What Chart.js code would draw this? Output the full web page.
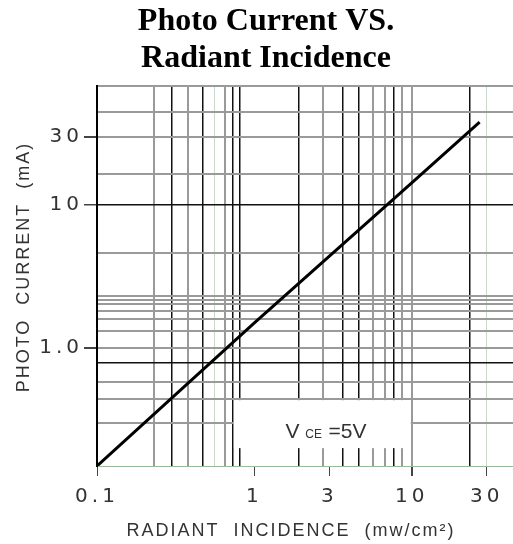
<!DOCTYPE html>
<html>
<head>
<meta charset="utf-8">
<script src="https://cdn.jsdelivr.net/npm/chart.js@4.4.1/dist/chart.umd.min.js"></script>
<style>
  html, body { margin: 0; padding: 0; background: #fff; }
</style>
</head>
<body>
<canvas id="chart-photo" width="513" height="544"></canvas>
<script>
// curve (mW/cm2 -> mA)
const radiant = [0.1, 1, 10, 27];
const photoCurrent = [0.15, 1.5, 14.3, 38];

const xTickValues = [0.1, 1, 3, 10, 30];
const xTickText = ['0.1', '1', '3', '10', '30'];
const yTickValues = [1, 10, 30];
const yTickText = ['1.0', '10', '30'];

// the printed grid is not a clean log grid, so lines are listed as read
const xGridDark = [0.30, 0.47, 0.73, 0.81, 1.92, 3.63, 4.61, 7.72, 23.3];
const xGridGray = [0.23, 0.38, 0.65, 2.73, 5.68, 6.77, 8.61, 10];
const xGridFaint = [0.56, 30];
const yGridDark = [10, 0.79];
const yGridGray = [68, 45, 30, 16.4, 4.6, 2.31, 2.17, 2.03, 1.82, 1.59, 1.31, 1, 0.58, 0.44, 0.30];

const noteBoxX = [0.73, 10];
const noteBoxY = [0.2, 0.44];
const notePos = [2.85, 0.267];

const xAll = [...new Set([...xTickValues, ...xGridDark, ...xGridGray, ...xGridFaint])].sort((a, b) => a - b);
const yAll = [...new Set([...yTickValues, ...yGridDark, ...yGridGray])].sort((a, b) => a - b);

function gridColor(v, dark, gray, faint) {
  if (dark.includes(v)) return '#111';
  if (gray.includes(v)) return '#9a9a9a';
  if (faint && faint.includes(v)) return '#c9d9c9';
  return 'rgba(0,0,0,0)';
}
function gridWidth(v, dark, gray) {
  if (dark.includes(v)) return 1.5;
  if (gray.includes(v)) return 2;
  return 1;
}

const sheetText = {
  id: 'sheetText',
  beforeDraw(chart) {
    chart.ctx.letterSpacing = '4px';
  },
  beforeDatasetsDraw(chart) {
    const {ctx, scales: {x, y}} = chart;
    const x0 = x.getPixelForValue(noteBoxX[0]) + 1;
    const x1 = x.getPixelForValue(noteBoxX[1]) - 1;
    const y0 = y.getPixelForValue(noteBoxY[1]) + 1;
    const y1 = y.getPixelForValue(noteBoxY[0]);
    ctx.save();
    ctx.fillStyle = '#fff';
    ctx.fillRect(x0, y0, x1 - x0, y1 - y0);
    ctx.restore();
  },
  afterDraw(chart) {
    const {ctx, scales: {x, y}} = chart;
    ctx.save();
    ctx.letterSpacing = '0px';
    ctx.fillStyle = '#000';
    ctx.textAlign = 'center';
    ctx.textBaseline = 'middle';
    ctx.font = 'bold 32px "Liberation Serif"';
    ctx.fillText('Photo Current VS.', 266, 22);
    ctx.fillText('Radiant Incidence', 266, 59);

    ctx.fillStyle = '#333';
    ctx.letterSpacing = '2px';
    ctx.font = '18px "Liberation Sans"';
    ctx.fillText('RADIANT  INCIDENCE  (mw/cm\u00b2)', 291, 531);
    ctx.save();
    ctx.translate(24, 267);
    ctx.rotate(-Math.PI / 2);
    ctx.fillText('PHOTO  CURRENT  (mA)', 0, 0);
    ctx.restore();

    // V_CE = 5V note
    const px = x.getPixelForValue(notePos[0]);
    const py = y.getPixelForValue(notePos[1]);
    ctx.letterSpacing = '0px';
    ctx.textAlign = 'left';
    ctx.textBaseline = 'alphabetic';
    const big = '21px "Liberation Sans"';
    const small = '12px "Liberation Sans"';
    ctx.font = big;
    const wV = ctx.measureText('V ').width;
    const wRest = ctx.measureText('=5V').width;
    ctx.font = small;
    const wCE = ctx.measureText('CE  ').width;
    let cx = px - (wV + wCE + wRest) / 2;
    const base = py + 8;
    ctx.font = big;
    ctx.fillText('V ', cx, base);
    cx += wV;
    ctx.font = small;
    ctx.fillText('CE  ', cx, base);
    cx += wCE;
    ctx.font = big;
    ctx.fillText('=5V', cx, base);
    ctx.restore();
  }
};

const chartPhoto = document.getElementById('chart-photo');

new Chart(chartPhoto, {
  type: 'line',
  data: {
    datasets: [{
      label: 'Photo Current',
      data: radiant.map((v, i) => ({x: v, y: photoCurrent[i]})),
      borderColor: '#000',
      borderWidth: 3,
      pointRadius: 0,
      tension: 0
    }]
  },
  options: {
    responsive: false,
    animation: false,
    devicePixelRatio: 1,
    layout: {padding: {top: 86, left: 0, right: 0, bottom: 0}},
    plugins: {
      legend: {display: false},
      tooltip: {enabled: false}
    },
    scales: {
      x: {
        type: 'logarithmic',
        position: 'bottom',
        min: 0.1,
        max: 44,
        bounds: 'data',
        afterBuildTicks: (scale) => { scale.ticks = xAll.map(v => ({value: v})); },
        afterFit: (scale) => { scale.height = 78; },
        ticks: {
          autoSkip: false,
          maxRotation: 0,
          padding: 9,
          color: '#333',
          font: {family: 'DejaVu Sans', size: 20},
          callback: (v) => {
            const i = xTickValues.indexOf(v);
            return i >= 0 ? xTickText[i] : '';
          }
        },
        grid: {
          tickLength: 10,
          color: (ctx) => gridColor(ctx.tick.value, xGridDark, xGridGray, xGridFaint),
          lineWidth: (ctx) => gridWidth(ctx.tick.value, xGridDark, xGridGray),
          tickColor: (ctx) => xTickValues.includes(ctx.tick.value) ? '#444' : 'rgba(0,0,0,0)'
        },
        border: {color: '#9b9', width: 1}
      },
      y: {
        type: 'logarithmic',
        position: 'left',
        min: 0.15,
        max: 68,
        bounds: 'data',
        afterBuildTicks: (scale) => { scale.ticks = yAll.map(v => ({value: v})); },
        afterFit: (scale) => { scale.width = 97; },
        ticks: {
          autoSkip: false,
          padding: 1,
          color: '#333',
          font: {family: 'DejaVu Sans', size: 20},
          callback: (v) => {
            const i = yTickValues.indexOf(v);
            return i >= 0 ? yTickText[i] : '';
          }
        },
        grid: {
          tickLength: 13,
          color: (ctx) => gridColor(ctx.tick.value, yGridDark, yGridGray),
          lineWidth: (ctx) => gridWidth(ctx.tick.value, yGridDark, yGridGray),
          tickColor: (ctx) => yTickValues.includes(ctx.tick.value) ? '#444' : 'rgba(0,0,0,0)'
        },
        border: {color: '#000', width: 2}
      }
    }
  },
  plugins: [sheetText]
});
</script>
</body>
</html>
